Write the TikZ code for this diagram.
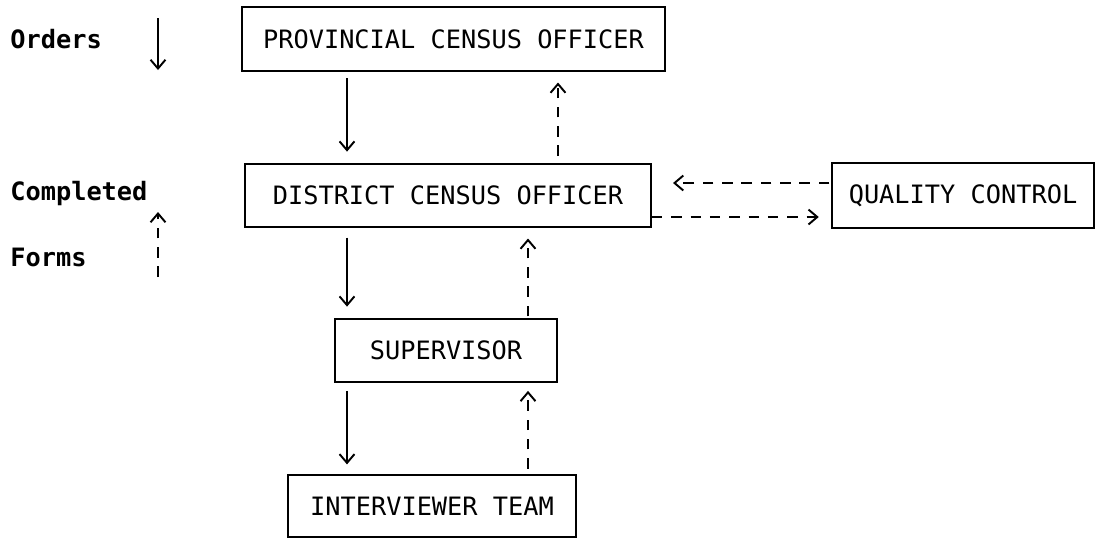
\documentclass[tikz,border=0pt]{standalone}
\usepackage{fontspec}
\setmonofont{DejaVu Sans Mono}
\usetikzlibrary{arrows.meta}
\tikzset{
  office/.style={draw, line width=1.1pt, inner sep=0pt, font=\ttfamily\fontsize{14.4}{17}\selectfont},
  legend/.style={anchor=base west, inner sep=0pt, font=\ttfamily\bfseries\fontsize{14.4}{17}\selectfont},
  order/.style={line width=1.1pt, -{Straight Barb[length=5pt,width=8.5pt,line width=1.1pt]}},
  return/.style={order, dash pattern=on 6pt off 5pt},
}
\begin{document}
\begin{tikzpicture}[x=0.02cm,y=-0.02cm]
\useasboundingbox (0,0) rectangle (1097,539);
% the offices
\node[office, minimum width=8.46cm, minimum height=1.28cm] (prov) at (453.5,39) {PROVINCIAL CENSUS OFFICER};
\node[office, minimum width=8.12cm, minimum height=1.26cm] (dco) at (448,195.5) {DISTRICT CENSUS OFFICER};
\node[office, minimum width=5.24cm, minimum height=1.30cm] (qc) at (963,195.5) {QUALITY CONTROL};
\node[office, minimum width=4.44cm, minimum height=1.26cm] (sup) at (446,350.5) {SUPERVISOR};
\node[office, minimum width=5.76cm, minimum height=1.24cm] (team) at (432,506) {INTERVIEWER TEAM};
% columns for the arrows
\coordinate (down) at (347,0);
\coordinate (upA) at (558,0);
\coordinate (upB) at (528,0);
\coordinate (legx) at (158,0);
\coordinate (rowA) at (0,183);
\coordinate (rowB) at (0,217);
% orders go down
\draw[order, shorten <=3.5pt, shorten >=6.5pt] (prov.south -| down) -- (dco.north -| down);
\draw[order, shorten <=5.5pt, shorten >=6.5pt] (dco.south -| down) -- (sup.north -| down);
\draw[order, shorten <=4.5pt, shorten >=5.5pt] (sup.south -| down) -- (team.north -| down);
% completed forms go up
\draw[return, shorten <=4pt, shorten >=6pt] (dco.north -| upA) -- (prov.south -| upA);
\draw[return, shorten <=1pt, shorten >=6pt] (sup.north -| upB) -- (dco.south -| upB);
\draw[return, shorten <=3pt, shorten >=4.5pt] (team.north -| upB) -- (sup.south -| upB);
% quality control
\draw[return, shorten <=1pt, shorten >=12pt] (qc.west |- rowA) -- (dco.east |- rowA);
\draw[return, shorten >=7pt] (dco.east |- rowB) -- (qc.west |- rowB);
% legend
\node[legend] (orders) at (10,48) {Orders};
\node[legend] (done) at (10,200) {Completed};
\node[legend] (forms) at (10,266) {Forms};
\coordinate (legA) at (legx |- 0,18);
\coordinate (legB) at (legx |- 0,70);
\coordinate (legC) at (legx |- 0,277);
\coordinate (legD) at (legx |- 0,212);
\draw[order] (legA) -- (legB);
\draw[return] (legC) -- (legD);
\end{tikzpicture}
\end{document}
